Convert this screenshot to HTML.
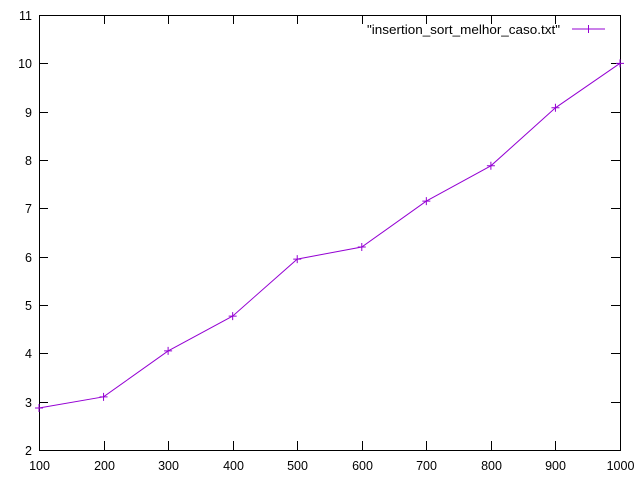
<!DOCTYPE html>
<html><head><meta charset="utf-8"><style>
html,body{margin:0;padding:0;background:#fff;}
svg{display:block;font-family:"Liberation Sans",sans-serif;}
</style></head><body>
<svg id="chart" width="640" height="480">
<g id="axes"></g>
<g id="series"></g>
<g>
<text x="367" y="34" font-size="12.5" textLength="193" lengthAdjust="spacingAndGlyphs">"insertion_sort_melhor_caso.txt"</text>
<line x1="572" y1="29" x2="605" y2="29" stroke="#9400d3" stroke-width="1"/>
<path d="M584.5 29h8M588.5 25v8" stroke="#9400d3" stroke-width="1"/>
</g>
</svg>
<script>
const xValues=[100,200,300,400,500,600,700,800,900,1000];
const yValues=[2.87,3.10,4.05,4.77,5.95,6.20,7.15,7.88,9.08,10.0];
const xTicks=[100,200,300,400,500,600,700,800,900,1000];
const yTicks=[2,3,4,5,6,7,8,9,10,11];
const L=39,R=620,T=15,B=450;
const xs=v=>L+(v-100)/900*(R-L);
const ys=v=>B-(v-2)/9*(B-T);
const NS="http://www.w3.org/2000/svg";
const axes=document.getElementById('axes'),ser=document.getElementById('series');
function mk(tag,attrs,parent){const e=document.createElementNS(NS,tag);for(const k in attrs)e.setAttribute(k,attrs[k]);parent.appendChild(e);return e;}
const frame=mk('rect',{x:L+.5,y:T+.5,width:R-L,height:B-T,fill:'none',stroke:'#000','stroke-width':1},axes);


yTicks.forEach(v=>{const y=Math.round(ys(v))+.5;
const t=mk('path',{d:`M${L} ${y}h9M${R} ${y}h-9`,stroke:'#000'},axes);


const l=mk('text',{x:L-7,y:y+4.5,'font-size':12.5,'text-anchor':'end'},axes);l.textContent=v;

});
xTicks.forEach(v=>{const x=Math.round(xs(v))+.5;
const t=mk('path',{d:`M${x} ${B}v-9M${x} ${T}v9`,stroke:'#000'},axes);


const l=mk('text',{x:x,y:B+20,'font-size':12.5,'text-anchor':'middle'},axes);l.textContent=v;

});
const pts=xValues.map((v,i)=>[xs(v),ys(yValues[i])]);
const line=mk('polyline',{points:pts.map(p=>p.join(',')).join(' '),fill:'none',stroke:'#9400d3','stroke-width':1},ser);


pts.forEach(p=>{const m=mk('path',{d:`M${p[0]-4} ${p[1]}h8M${p[0]} ${p[1]-4}v8`,stroke:'#9400d3','stroke-width':1},ser);

});
</script>
</body></html>
